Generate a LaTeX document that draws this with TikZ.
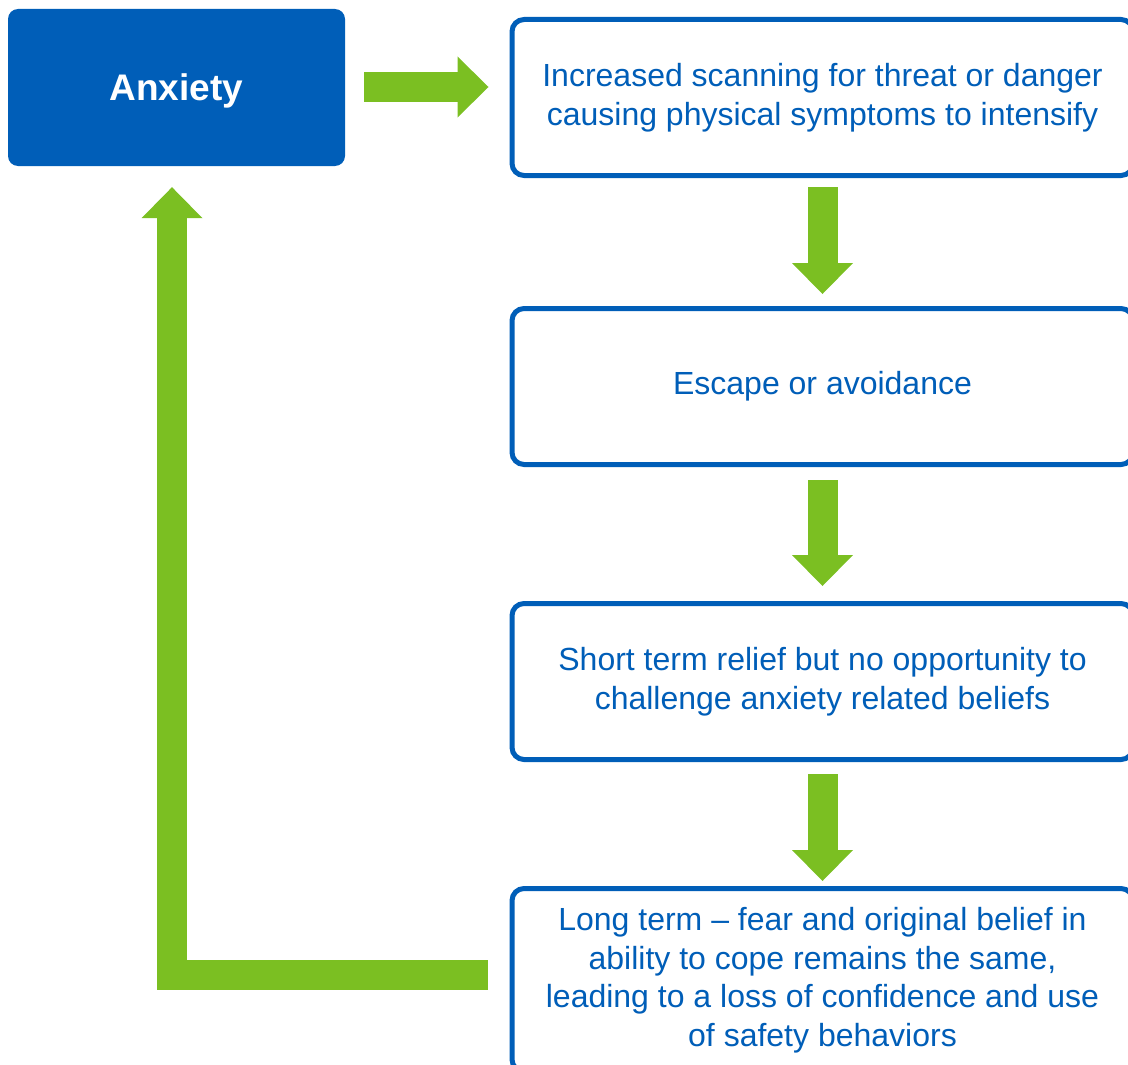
\documentclass[tikz,border=0pt]{standalone}
\usepackage{fontspec}
\setmainfont{Liberation Sans}
\usepackage{xcolor}
\usetikzlibrary{arrows.meta, positioning}

\definecolor{nhsblue}{HTML}{005EB8}
\definecolor{nhsgreen}{HTML}{7BBF22}

\begin{document}
\begin{tikzpicture}[
    x=1pt, y=-1pt,
    node distance=128pt,
    anxbox/.style={fill=nhsblue, rounded corners=10pt, minimum width=337pt, minimum height=157pt, text depth=0pt, align=center, text=white, font=\fontsize{37}{44}\selectfont\bfseries},
    flowbox/.style={draw=nhsblue, line width=5pt, fill=white, rounded corners=12pt, minimum width=621pt, minimum height=#1, align=center, text=nhsblue, font=\fontsize{32}{38.5}\selectfont},
    blockarrow/.style={draw=nhsgreen, line width=30pt, -{Triangle[length=31pt, width=61pt, line width=0pt]}},
  ]

  \useasboundingbox (0,0) rectangle (1128,1065);

  % Start box
  \node[anxbox] (anx) at (176.5,87.5) {Anxiety};

  % Chain down the right side
  \node[flowbox=156pt] (scan) at (822.5,97.5) {Increased scanning for threat or danger\\causing physical symptoms to intensify};
  \node[flowbox=156pt, below=128pt of scan] (escape) {Escape or avoidance};
  \node[flowbox=156pt, below=134pt of escape] (relief) {Short term relief but no opportunity to\\challenge anxiety related beliefs};
  \node[flowbox=183pt, below=124pt of relief] (longterm) {Long term -- fear and original belief in\\ability to cope remains the same,\\leading to a loss of confidence and use\\of safety behaviors};

  % Arrows
  \draw[blockarrow, shorten <=19pt, shorten >=21pt] (anx.east |- 0,87) -- (scan.west |- 0,87);
  \draw[blockarrow, shorten <=9pt, shorten >=12pt] (scan) -- (escape);
  \draw[blockarrow, shorten <=13pt, shorten >=15pt] (escape) -- (relief);
  \draw[blockarrow, shorten <=12pt, shorten >=5pt] (relief) -- (longterm);

  % Loop back to anxiety
  \draw[blockarrow, shorten <=22pt, shorten >=21pt] (longterm.west |- 0,975) -| ([xshift=-4.5pt]anx.south);

\end{tikzpicture}
\end{document}
